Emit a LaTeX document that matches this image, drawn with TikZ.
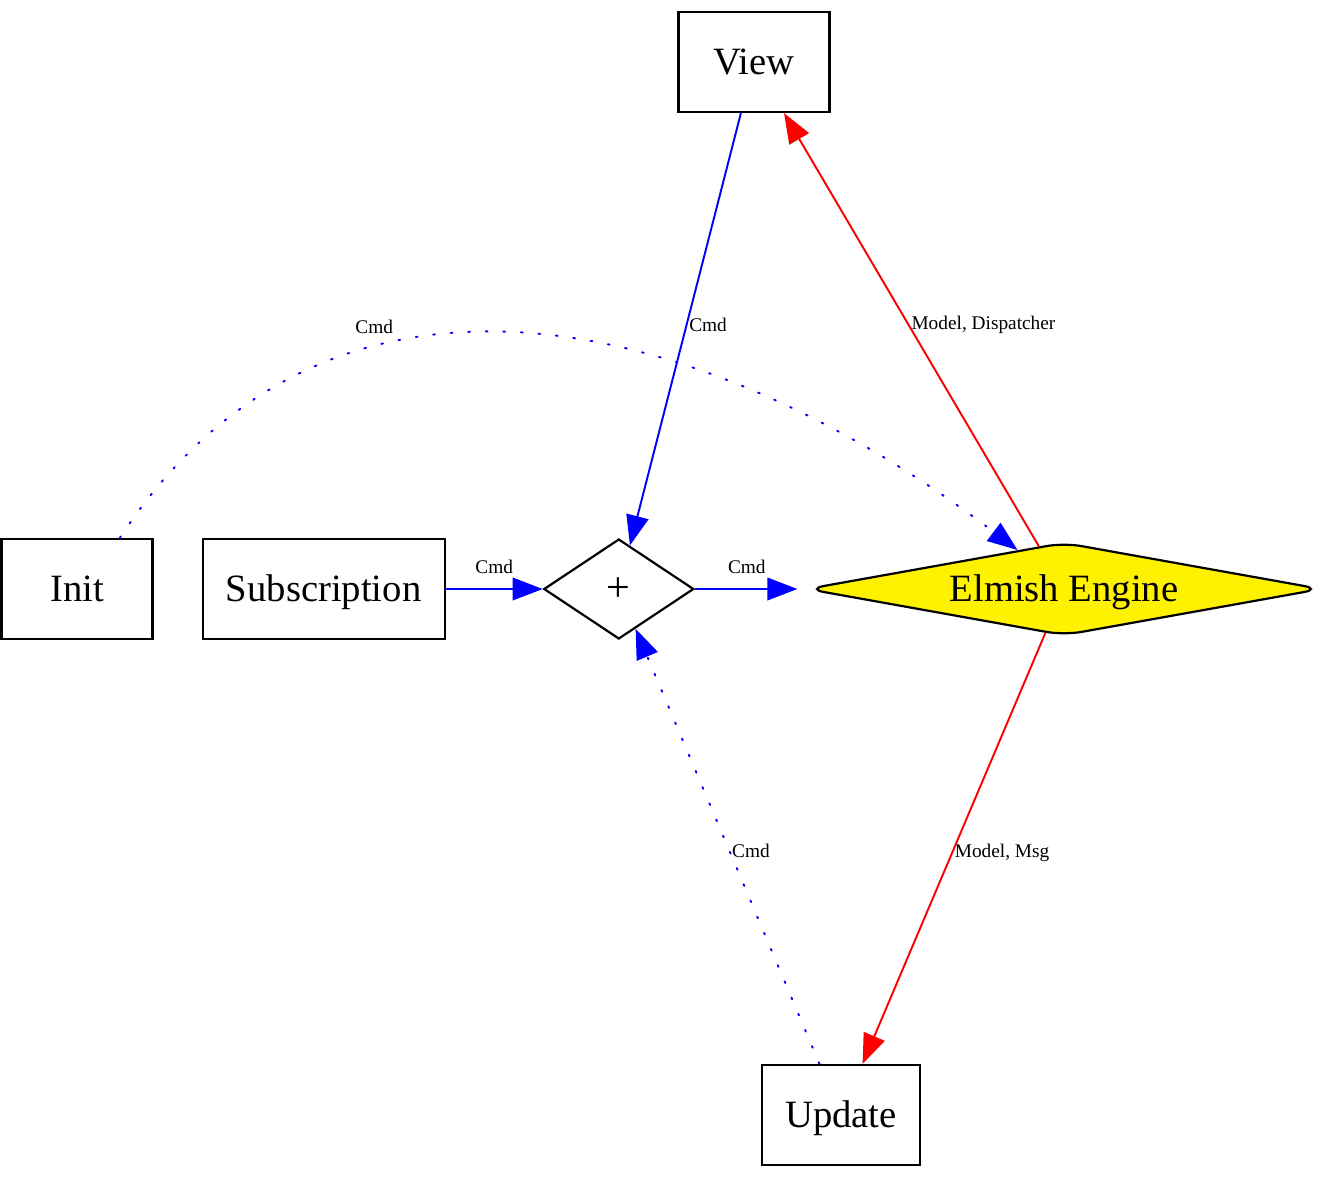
\documentclass[tikz,border=0pt]{standalone}
\usepackage{fontspec}
\setmainfont{Liberation Serif}
\usetikzlibrary{shapes.geometric,positioning,arrows.meta}

\begin{document}
\begin{tikzpicture}[x=0.02cm, y=-0.02cm, node distance=1cm,
        block/.style={draw, rectangle, line width=1.25pt, minimum height=2cm, minimum width=3.02cm, inner sep=0pt, text height=14.5pt, text depth=0pt, font=\fontsize{22}{26}\selectfont},
        merge/.style={draw, diamond, line width=1.25pt, aspect=1.5, minimum width=3cm, minimum height=2cm, inner sep=0pt, text height=14.5pt, text depth=0pt, font=\fontsize{24}{28}\selectfont},
        engine/.style={draw, diamond, line width=1.25pt, aspect=5.4, minimum width=10.3cm, minimum height=1.86cm, inner sep=0pt, rounded corners=0.35cm, fill=yellow, text height=14.5pt, text depth=0pt, font=\fontsize{22}{26}\selectfont},
        lbl/.style={inner sep=1pt, text=black, font=\fontsize{11}{13}\selectfont},
        flow/.style={line width=1.1pt, -{Triangle[length=0.6cm, width=0.45cm]}},
        cmd/.style={flow, blue},
        msg/.style={flow, red},
        dots/.style={dash pattern=on 1pt off 9pt, line cap=round}
    ]
        \useasboundingbox (0,0) rectangle (1344,1200);

        \node [block] (init) at (77,589) {Init};
        \node [block, minimum width=4.84cm, right=0.96cm of init] (sub) {Subscription};
        \node [merge, right=1.94cm of sub] (plus) {+};
        \node [engine] (engine) at (1064,589) {Elmish Engine};
        \node [block] (view) at (754,62) {View};
        \node [block, minimum width=3.16cm] (update) at (841,1115) {Update};

        \draw [cmd] (sub) -- node[lbl, above=7pt] {Cmd} (plus);
        \draw [cmd, shorten >=0.16cm] (plus) -- node[lbl, pos=0.47, above=7pt] {Cmd} (engine);
        \draw [cmd] (view) -- node[lbl, pos=0.49, anchor=west] {Cmd} (plus);
        \draw [msg] (engine) -- node[lbl, pos=0.51, anchor=west] {Model, Dispatcher} (view);
        \draw [msg] (engine) -- node[lbl, pos=0.51, anchor=west] {Model, Msg} (update);

        % Cmd coming back from update and init
        \draw [cmd, dots] (update) -- node[lbl, pos=0.49, anchor=west] {Cmd} (plus);
        \draw [cmd, dots] (init.50) .. controls (330,216) and (708,315) .. node[lbl, pos=0.33, above=6pt] {Cmd} (engine.140);
    \end{tikzpicture}
\end{document}
